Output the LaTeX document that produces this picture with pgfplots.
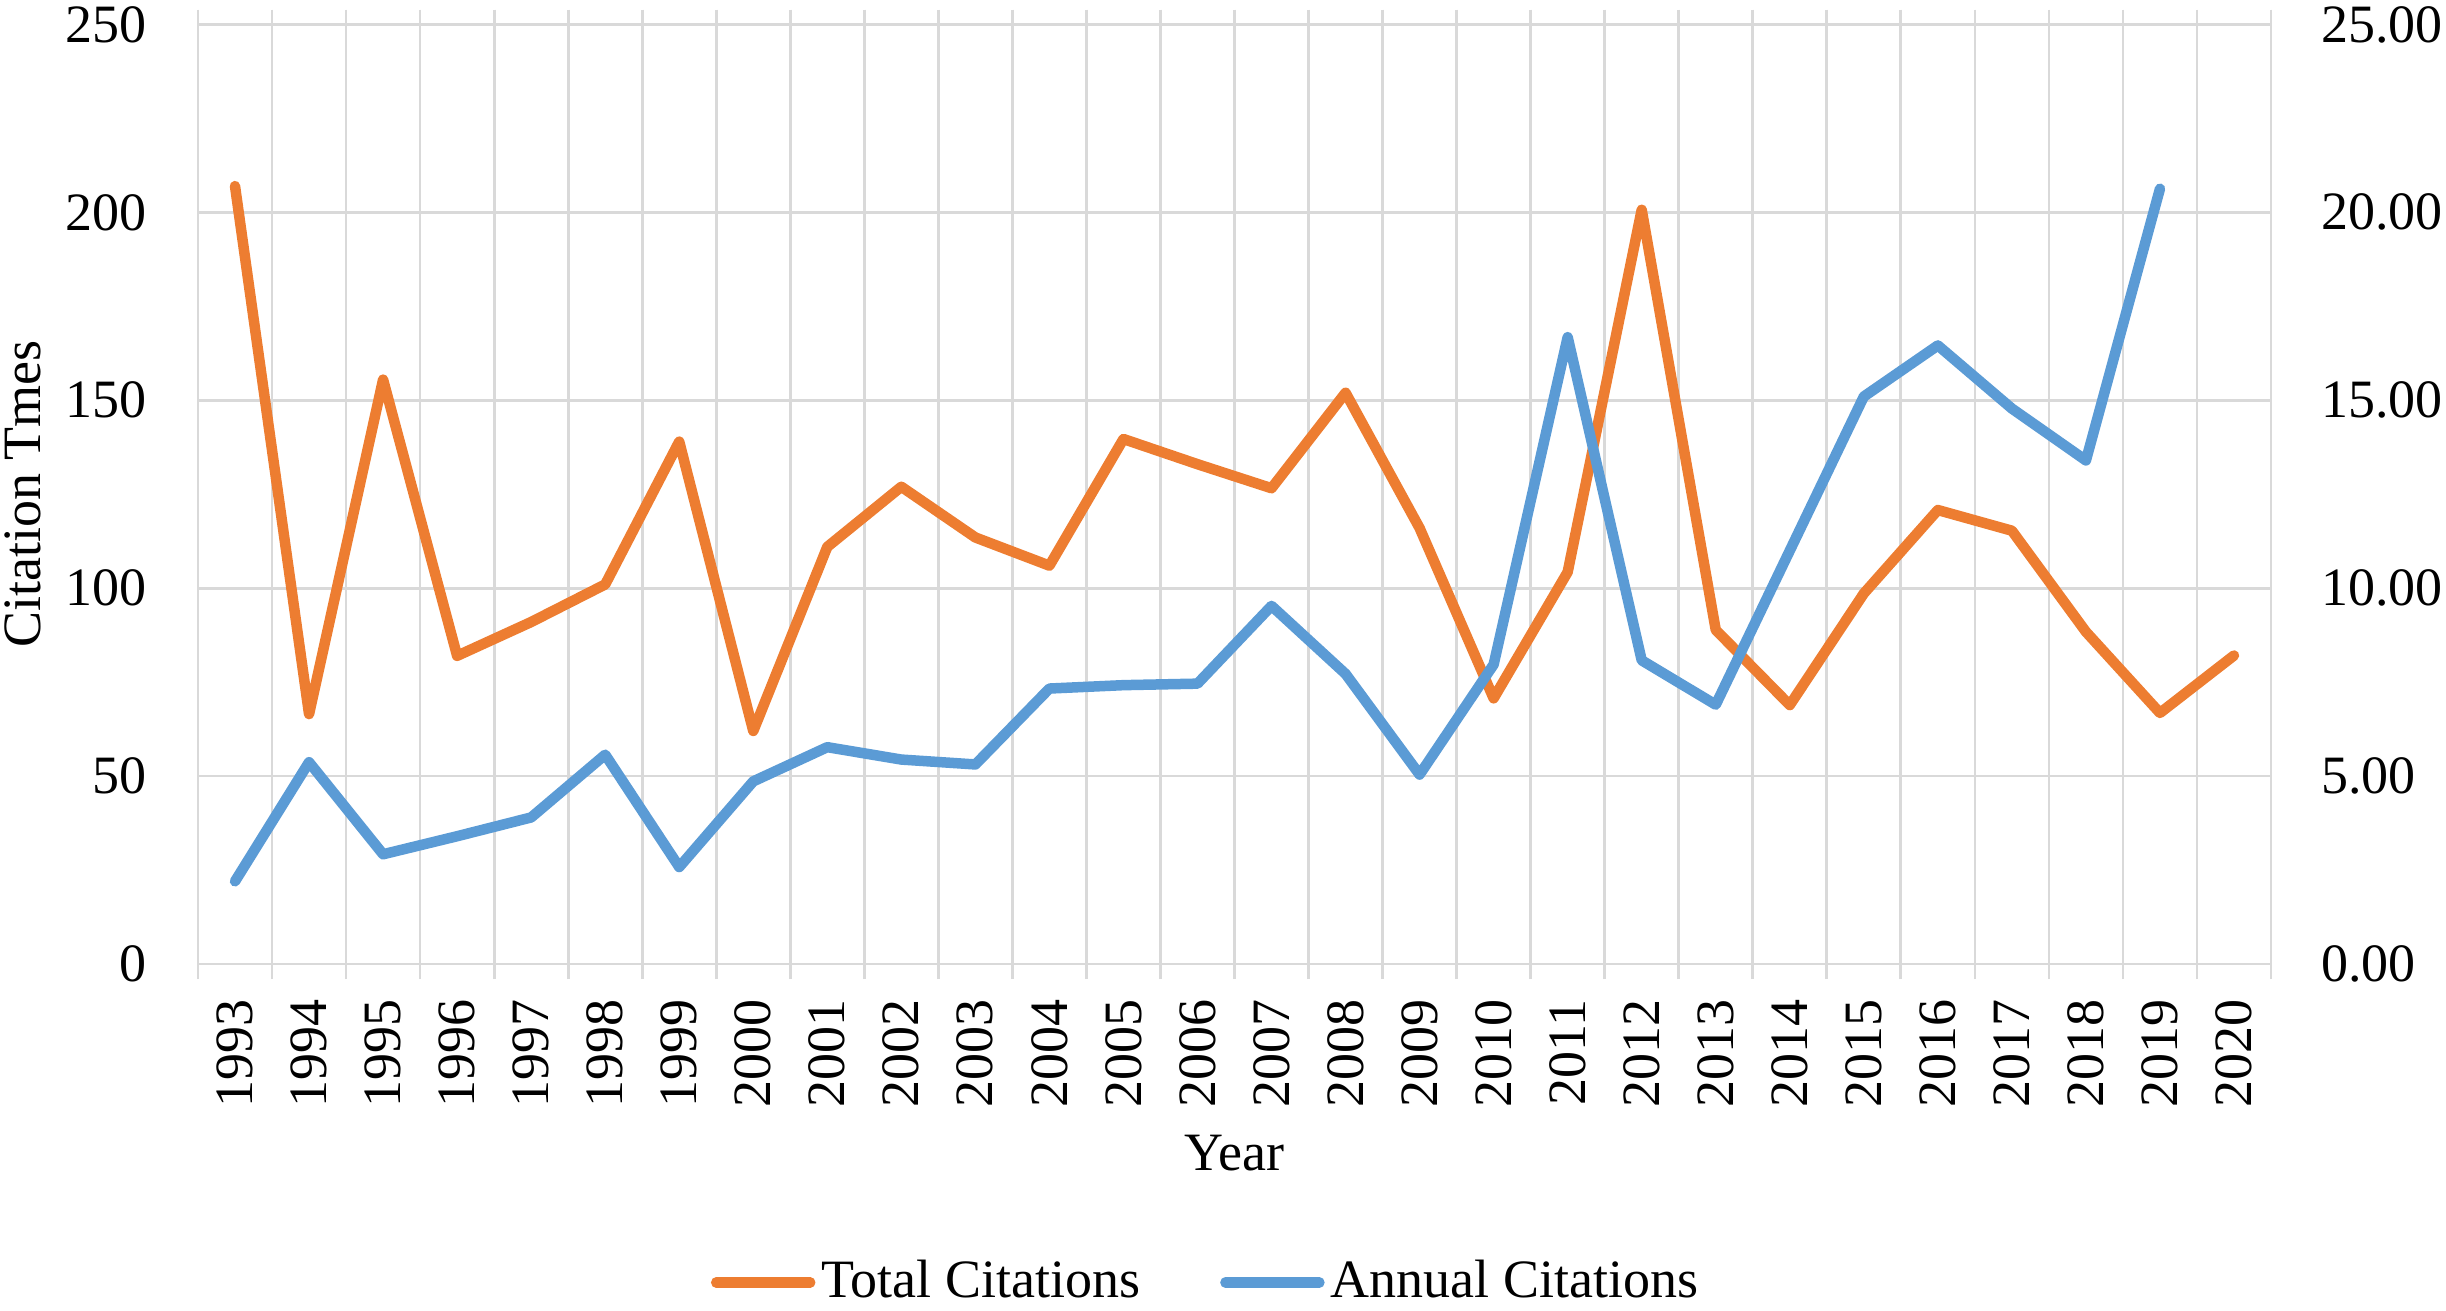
\documentclass[border=0pt]{standalone}
\usepackage{fontspec}
\setmainfont{Liberation Serif}
\usepackage{pgfplots}
\usepackage{pgfplotstable}
\pgfplotsset{compat=1.18}
\definecolor{xlorange}{HTML}{ED7D31}
\definecolor{xlblue}{HTML}{5B9BD5}
\definecolor{gridgray}{HTML}{D9D9D9}
\newcommand{\chartfont}{\fontsize{10.8pt}{13pt}\selectfont}
\pgfplotstableread{
Year Total Annual
1993 207 2.20
1994 66.5 5.37
1995 155.5 2.92
1996 82 3.40
1997 91 3.90
1998 101 5.57
1999 139 2.58
2000 62 4.86
2001 111 5.77
2002 127 5.44
2003 113.5 5.31
2004 106 7.33
2005 139.7 7.42
2006 133 7.46
2007 126.6 9.53
2008 152 7.72
2009 116 5.04
2010 70.7 7.97
2011 104.3 16.68
2012 200.7 8.08
2013 88.9 6.90
2014 68.9 11.0
2015 98.6 15.1
2016 120.8 16.46
2017 115.3 14.78
2018 88.4 13.4
2019 66.8 20.63
2020 82.1 nan
}\citedata
\begin{document}
\begin{tikzpicture}
\path[use as bounding box] (-39.6pt,-69.2pt) rectangle (449.6pt,192.8pt);
\begin{axis}[
  scale only axis, width=414.6pt, height=187.9pt,
  xmin=1992.5, xmax=2020.5, ymin=0, ymax=250,
  xtick={1993,...,2020},
  minor xtick={1992.5,1993.5,...,2020.5},
  ytick={0,50,...,250},
  ymajorgrids=true, xminorgrids=true, xmajorgrids=false,
  grid style={draw=gridgray, line width=0.55pt},
  minor grid style={draw=gridgray, line width=0.55pt},
  axis line style={draw=none},
  tick align=outside,
  major tick length=0pt, minor tick length=3pt,
  minor x tick style={draw=gridgray, line width=0.55pt},
  ytick style={draw=none},
  /pgf/number format/1000 sep={},
  /pgf/number format/assume math mode=true,
  tick label style={font=\chartfont},
  xticklabel style={rotate=90, anchor=east, inner sep=0pt, xshift=-6.8pt},
  yticklabel style={anchor=east, inner sep=0pt, xshift=-10pt},
  label style={font=\chartfont},
  xlabel={Year},
  xlabel style={at={(axis description cs:0.5,0)}, anchor=base, yshift=-41.2pt},
  ylabel={Citation Tmes},
  ylabel style={at={([xshift=-35pt]axis description cs:0,0.5)}, anchor=center},
]
\addplot[xlorange, line width=2.1pt, line cap=round, line join=round, mark=none]
  table[x=Year, y=Total] {\citedata};
\end{axis}
\begin{axis}[
  scale only axis, width=414.6pt, height=187.9pt,
  xmin=1992.5, xmax=2020.5, ymin=0, ymax=25,
  axis x line=none,
  axis y line*=right,
  y axis line style={draw=none},
  ytick={0,5,...,25},
  ytick style={draw=none},
  major tick length=0pt,
  /pgf/number format/fixed, /pgf/number format/fixed zerofill,
  /pgf/number format/precision=2,
  /pgf/number format/assume math mode=true,
  tick label style={font=\chartfont},
  yticklabel style={anchor=west, inner sep=0pt, xshift=9.8pt},
  legend columns=2,
  legend style={at={(axis description cs:0.487,-0.339)}, anchor=center, draw=none, fill=none,
    font=\chartfont, inner sep=0pt,
    /tikz/every even column/.append style={column sep=14.8pt},
    nodes={inner sep=1.2pt}},
  legend image code/.code={\draw[#1, line width=2.1pt, line cap=round] (0pt,0pt) -- (18.8pt,0pt);},
]
\addlegendimage{xlorange}
\addlegendentry{Total Citations}
\addplot[xlblue, line width=2.1pt, line cap=round, line join=round, mark=none, unbounded coords=discard]
  table[x=Year, y=Annual] {\citedata};
\addlegendentry{Annual Citations}
\end{axis}
\end{tikzpicture}
\end{document}
